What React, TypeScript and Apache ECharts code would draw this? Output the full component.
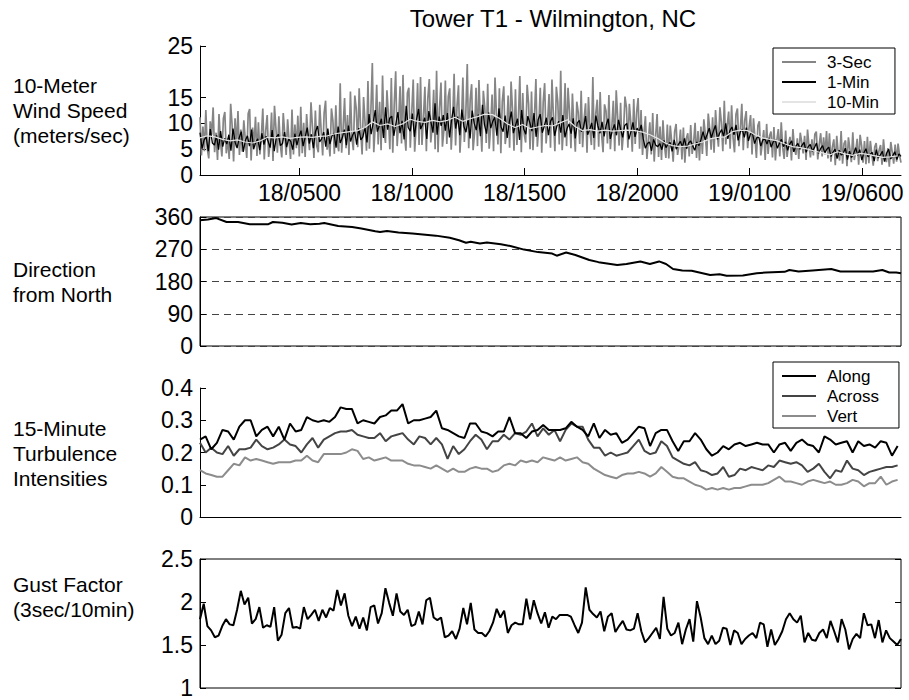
import React, { useEffect, useRef } from "react";
import * as echarts from "echarts";

// ---------- time axis (hours since 18/0000) ----------
const X_MIN = 0.58;
const X_MAX = 31.73;
const xTickHours = [5, 10, 15, 20, 25, 30];
const xTickLabels = ["18/0500", "18/1000", "18/1500", "18/2000", "19/0100", "19/0600"];

// ---------- panel 1: wind speed ----------
const speedTicks = [0, 5, 10, 15, 25];
const speed3sec = [
  11.2,3.8,9.4,4.6,12.6,5.1,3.2,10.4,7.8,13.1,4.4,8.2,2.9,11.8,6.5,3.6,10.9,12.2,4.2,7.1,3.1,13.8,9.6,2.6,11.0,5.4,12.4,3.9,8.8,4.5,10.6,6.9,3.3,11.9,12.8,2.8,9.2,5.7,11.3,3.7,10.2,4.0,7.4,12.9,3.0,8.6,11.6,3.5,6.2,12.1,2.7,13.4,9.0,4.3,11.4,5.9,3.4,12.0,8.1,3.9,10.8,6.6,3.1,12.7,4.0,9.8,5.2,11.5,3.6,
  13.2,4.2,10.1,3.5,11.8,7.6,4.8,14.1,9.3,3.3,12.5,5.6,4.4,13.6,8.4,3.8,12.0,14.4,4.9,7.2,3.6,12.9,10.5,4.1,13.5,6.3,4.6,
  17.8,4.3,9.1,14.9,5.2,11.6,3.9,16.2,7.4,4.8,15.4,12.8,5.4,16.8,8.9,4.0,15.1,10.2,4.7,
  18.2,5.1,12.4,21.7,4.4,9.8,17.5,5.9,14.2,4.8,19.3,8.6,6.2,16.4,11.5,5.0,18.8,4.3,13.7,20.1,5.6,10.4,17.2,6.1,19.4,8.1,4.7,15.9,16.9,5.3,12.1,18.5,4.5,9.6,17.8,5.8,
  19.0,5.8,11.2,17.1,4.6,14.8,18.6,6.3,9.4,16.5,5.0,20.2,4.4,12.9,17.9,5.5,8.7,18.3,6.0,15.2,16.8,4.9,10.6,19.6,5.7,13.4,17.4,4.3,9.9,18.9,6.4,11.8,21.5,5.2,14.6,17.6,4.8,8.2,16.9,
  5.6,18.4,10.3,4.5,16.3,13.1,6.2,17.7,5.1,9.2,15.6,4.6,18.9,11.7,5.9,16.8,4.2,14.3,17.2,6.0,8.5,15.4,5.3,18.1,12.6,4.7,16.6,5.8,10.9,19.2,4.4,15.9,7.9,6.3,17.5,13.8,5.0,16.2,4.8,11.3,18.6,5.5,9.7,16.9,4.3,14.1,17.8,6.1,10.2,15.7,
  5.3,18.5,11.4,4.6,17.1,14.2,5.9,20.2,4.8,9.8,17.8,5.6,16.9,12.3,
  5.2,15.8,9.6,4.5,14.2,12.1,6.0,16.3,5.4,10.8,13.9,4.3,15.1,8.7,5.8,19.0,4.9,11.9,14.6,5.5,16.1,7.8,4.4,13.7,12.4,6.1,15.5,5.0,9.3,14.4,4.6,16.4,11.2,5.7,14.0,4.8,8.4,15.2,13.1,5.3,13.8,10.1,4.5,14.7,6.0,12.2,14.9,5.1,
  12.6,3.9,8.1,11.4,3.1,6.7,10.2,4.0,12.0,2.6,7.5,11.8,3.5,9.4,2.9,10.6,5.8,3.3,9.8,
  3.2,9.6,6.4,2.6,8.4,9.9,3.9,5.7,8.8,3.0,9.2,2.4,7.1,8.1,3.6,9.7,4.1,6.2,10.1,3.3,8.5,2.8,9.4,
  4.1,10.8,7.9,3.7,11.9,9.1,4.9,11.2,4.3,12.6,8.4,5.5,13.1,10.2,4.6,14.4,5.9,9.6,12.3,5.1,13.5,7.3,4.4,11.8,12.9,5.6,8.8,13.8,4.8,10.6,12.4,5.2,9.3,11.6,
  4.0,11.0,7.2,3.3,9.6,10.4,3.8,6.1,8.7,2.9,9.9,4.1,7.6,8.4,3.4,9.3,2.8,6.8,8.9,3.6,10.2,5.3,3.1,
  8.6,3.5,6.1,7.4,2.8,8.9,5.2,3.9,7.1,3.1,8.2,6.4,4.2,7.6,2.9,8.8,5.6,3.4,6.9,3.8,7.9,8.4,3.0,5.9,8.1,3.6,7.3,4.0,8.5,3.2,
  8.1,2.6,5.4,6.9,1.9,7.6,4.3,2.8,8.5,2.2,6.1,6.7,1.7,7.3,5.0,2.5,8.3,2.9,4.6,7.0,2.0,7.8,5.7,2.4,6.6,2.1,7.4,
  2.3,6.6,4.1,1.8,5.4,6.2,2.7,4.8,5.8,2.0,6.9,3.6,2.5,5.2,1.6,6.4,4.4,2.2,5.9,2.6,6.1,3.8,2.4,
];
const speed1min = [
  8.2,5.1,6.8,7.4,4.6,8.9,6.2,5.8,7.7,4.9,8.5,5.5,7.1,6.0,7.8,4.7,9.0,6.4,5.2,7.2,8.4,4.5,6.7,7.6,5.6,8.8,5.0,6.3,7.0,4.8,8.1,5.9,7.5,6.6,5.3,8.7,4.6,7.3,7.9,5.7,6.1,8.3,5.4,7.0,6.5,4.9,8.0,5.8,7.4,
  8.6,5.6,7.3,9.2,6.1,7.9,5.2,8.4,9.5,6.4,7.0,8.3,5.5,9.0,6.0,7.6,8.1,5.3,9.4,6.2,7.2,8.8,5.8,9.6,6.5,7.7,8.5,5.9,9.1,6.8,7.4,9.3,6.3,
  11.8,7.9,10.1,12.6,8.4,9.6,10.9,7.2,13.1,8.8,11.0,11.4,7.6,9.9,12.2,8.1,10.5,6.9,13.4,9.2,8.5,11.9,7.4,10.7,12.8,8.9,9.8,11.1,7.0,12.4,10.3,8.2,13.9,7.8,11.3,9.5,11.6,8.6,12.0,7.3,10.6,13.2,9.0,11.3,7.7,12.7,9.4,8.3,10.8,7.1,12.5,10.0,8.7,11.7,7.5,13.6,9.7,8.0,12.1,9.1,10.4,11.2,7.6,12.9,9.3,8.4,11.5,7.2,10.2,12.3,8.1,9.6,10.9,6.8,12.6,8.9,7.9,11.4,10.1,8.5,12.0,7.4,10.7,11.8,8.2,9.5,11.1,7.7,10.4,
  11.2,7.6,9.4,10.4,8.2,11.6,7.3,9.0,9.9,8.0,11.0,7.1,10.1,10.6,8.4,9.2,11.4,7.8,8.8,10.1,7.2,11.5,9.5,8.1,10.3,7.5,9.7,10.9,7.0,8.6,9.8,7.7,10.7,8.9,7.3,9.6,10.0,6.9,8.4,10.2,7.4,9.1,8.3,9.7,
  7.0,5.2,6.1,6.4,4.7,6.9,5.8,5.5,6.1,4.9,6.7,5.3,6.0,6.3,4.6,6.8,5.0,5.9,6.5,5.4,7.1,5.1,6.2,6.6,5.6,4.8,6.4,5.7,6.9,
  8.4,6.8,7.9,9.1,7.2,8.5,9.6,6.9,8.1,8.8,7.5,10.0,7.0,8.6,9.3,7.8,9.7,6.7,8.3,8.9,7.3,9.2,6.6,8.0,
  8.0,6.1,7.2,7.4,5.6,6.8,7.0,6.0,7.2,5.4,6.4,6.8,5.2,6.1,6.9,5.5,6.4,4.8,6.0,6.6,4.5,5.6,6.1,5.0,5.8,6.3,4.4,5.5,5.9,4.6,5.3,6.2,4.2,5.1,5.7,4.3,5.0,
  5.4,3.6,4.4,5.0,3.2,4.8,3.9,4.2,5.2,3.0,4.6,3.4,4.1,5.3,3.8,4.9,2.9,4.3,5.1,3.5,4.0,4.4,2.7,4.9,3.3,3.9,4.6,2.6,4.2,5.0,3.1,3.7,4.5,3.0,4.1,3.6,
];
const speed10min = [
  7.2, 7.6, 7.4, 6.9, 6.6, 6.8, 6.4, 6.2, 6.6, 7.3,
  7.2, 7.4, 7.1, 7.3, 7.4, 7.3, 7.5, 7.6, 8.0, 8.2,
  8.4, 8.6, 9.2, 10.3, 9.6, 9.9, 9.4, 9.9, 10.8, 10.4,
  10.2, 10.6, 10.3, 10.6, 11.2, 10.4, 10.9, 11.3, 11.8, 11.7,
  10.9, 9.9, 9.2, 9.8, 9.0, 9.3, 9.6, 9.5, 10.1, 10.7,
  9.4, 8.6, 8.8, 8.5, 8.7, 8.5, 8.6, 8.7, 8.6, 8.3,
  7.8, 7.1, 6.2, 5.7, 5.5, 5.6, 6.0, 6.4, 7.0, 7.3,
  7.4, 8.4, 8.7, 8.6, 7.8, 7.2, 6.9, 6.6, 6.0, 5.5,
  5.3, 5.0, 4.6, 4.3, 3.9, 4.5, 4.1, 3.8, 4.2, 4.0,
  3.7, 3.4, 3.5, 3.7,
];
const SPEED10_STEP = 1 / 3;

// ---------- panel 2: direction ----------
const dirHours = [0.58,0.93,1.30,1.76,2.27,2.79,3.62,3.82,4.24,4.65,5.06,5.48,5.89,6.10,6.72,7.34,7.75,8.37,8.58,8.89,9.40,10.02,11.06,11.68,12.09,12.40,12.61,13.02,13.33,13.95,14.37,14.98,15.60,16.23,16.43,16.85,17.26,17.88,18.29,19.12,19.53,20.15,20.57,20.98,21.29,21.60,22.01,22.43,23.25,23.67,23.98,24.70,25.32,25.73,26.56,26.77,27.18,27.80,28.63,29.04,30.49,30.90,31.21,31.52,31.73];
const dirValues = [351,353,357,346,346,340,340,346,344,339,343,340,341,343,335,332,328,320,318,321,317,314,308,302,295,288,291,286,289,284,279,269,262,258,252,261,254,240,234,226,229,236,229,236,229,215,211,210,198,200,196,197,203,205,207,212,208,211,215,208,208,212,205,205,203];

// ---------- panel 3: turbulence (15-minute) ----------
const TURB_STEP = 0.25;
const turbAlong = [
  0.24,0.25,0.21,0.23,0.27,0.265,0.24,0.28,0.30,0.30,
  0.25,0.27,0.28,0.25,0.28,0.24,0.29,0.265,0.27,0.31,
  0.30,0.295,0.30,0.295,0.31,0.34,0.335,0.335,0.29,0.30,
  0.295,0.29,0.31,0.315,0.33,0.33,0.35,0.29,0.30,0.30,
  0.305,0.31,0.33,0.275,0.27,0.26,0.25,0.245,0.29,0.29,
  0.265,0.26,0.25,0.265,0.265,0.31,0.26,0.26,0.245,0.265,
  0.27,0.285,0.27,0.27,0.27,0.275,0.295,0.28,0.27,0.25,
  0.29,0.245,0.27,0.255,0.26,0.23,0.24,0.26,0.28,0.275,
  0.22,0.26,0.27,0.27,0.235,0.205,0.235,0.235,0.26,0.24,
  0.21,0.19,0.20,0.22,0.21,0.225,0.23,0.22,0.225,0.23,
  0.225,0.225,0.20,0.225,0.23,0.205,0.23,0.24,0.225,0.22,
  0.20,0.25,0.24,0.225,0.23,0.235,0.20,0.235,0.22,0.225,
  0.215,0.235,0.23,0.19,0.22,
];
const turbAcross = [
  0.23,0.20,0.215,0.20,0.195,0.22,0.19,0.21,0.21,0.215,
  0.24,0.22,0.21,0.215,0.225,0.24,0.225,0.22,0.20,0.225,
  0.245,0.215,0.24,0.25,0.26,0.265,0.265,0.27,0.255,0.25,
  0.245,0.245,0.26,0.235,0.25,0.255,0.26,0.24,0.225,0.25,
  0.245,0.225,0.245,0.225,0.18,0.22,0.195,0.21,0.235,0.255,
  0.24,0.21,0.235,0.235,0.255,0.24,0.26,0.255,0.265,0.29,
  0.25,0.275,0.255,0.27,0.235,0.27,0.29,0.28,0.28,0.24,
  0.215,0.215,0.19,0.20,0.19,0.195,0.20,0.22,0.24,0.205,
  0.195,0.20,0.235,0.22,0.185,0.175,0.165,0.16,0.17,0.145,
  0.14,0.13,0.135,0.155,0.125,0.13,0.15,0.145,0.155,0.15,
  0.145,0.16,0.155,0.175,0.17,0.165,0.17,0.16,0.14,0.15,
  0.165,0.14,0.12,0.145,0.14,0.175,0.15,0.145,0.13,0.14,
  0.145,0.15,0.155,0.155,0.16,
];
const turbVert = [
  0.145,0.135,0.13,0.125,0.125,0.145,0.165,0.16,0.185,0.175,
  0.18,0.175,0.17,0.165,0.17,0.17,0.17,0.175,0.175,0.19,
  0.175,0.17,0.195,0.195,0.195,0.195,0.20,0.21,0.205,0.18,
  0.185,0.175,0.18,0.185,0.175,0.175,0.175,0.165,0.16,0.16,
  0.155,0.15,0.16,0.15,0.14,0.15,0.14,0.14,0.15,0.155,
  0.15,0.15,0.14,0.145,0.16,0.165,0.16,0.175,0.17,0.175,
  0.17,0.185,0.18,0.175,0.185,0.175,0.18,0.185,0.17,0.165,
  0.15,0.14,0.13,0.125,0.12,0.13,0.135,0.135,0.14,0.135,
  0.125,0.135,0.155,0.14,0.125,0.12,0.12,0.11,0.10,0.095,
  0.085,0.09,0.085,0.09,0.085,0.09,0.09,0.095,0.10,0.10,
  0.10,0.105,0.115,0.125,0.11,0.11,0.105,0.10,0.11,0.115,
  0.11,0.105,0.11,0.10,0.10,0.105,0.115,0.11,0.095,0.105,
  0.105,0.125,0.10,0.11,0.115,
];

// ---------- panel 4: gust factor (10-minute) ----------
const GUST_STEP = 0.1648;
const gustFactor = [
  1.80,1.98,1.72,1.67,1.59,1.61,1.72,1.80,1.74,1.73,
  1.91,2.13,1.97,2.05,1.75,1.80,1.94,1.70,1.73,1.71,
  1.94,1.55,1.62,1.87,1.93,1.70,1.71,1.69,1.94,1.80,
  1.85,1.91,1.78,1.91,1.82,1.93,1.90,2.14,1.96,2.10,
  1.84,1.72,1.83,1.69,1.82,1.67,1.94,1.96,1.75,1.87,
  2.16,1.99,1.84,2.10,1.89,1.85,1.91,1.72,1.74,1.89,
  1.74,2.02,2.05,1.82,1.79,1.82,1.59,1.61,1.66,1.57,
  1.69,1.93,1.74,1.99,1.68,1.64,1.64,1.60,1.66,1.76,
  1.92,1.82,1.90,1.64,1.73,1.76,1.74,1.74,2.04,1.80,
  2.02,1.87,1.75,1.88,1.70,1.83,1.80,1.85,1.85,1.85,
  1.83,1.73,1.64,1.76,2.17,1.91,1.86,1.82,1.89,1.66,
  1.83,1.87,1.65,1.72,1.78,1.68,1.67,1.69,1.87,1.66,
  1.53,1.58,1.64,1.70,1.57,2.06,1.69,1.61,1.64,1.76,
  1.51,1.68,1.80,1.54,2.01,1.82,1.58,1.51,1.61,1.51,
  1.55,1.70,1.69,1.50,1.67,1.64,1.51,1.57,1.61,1.64,
  1.58,1.76,1.74,1.48,1.68,1.50,1.57,1.66,1.80,1.87,
  1.80,1.76,1.84,1.53,1.64,1.56,1.55,1.64,1.68,1.58,
  1.78,1.66,1.53,1.80,1.68,1.45,1.57,1.63,1.58,1.87,
  1.73,1.74,1.58,1.79,1.53,1.67,1.58,1.54,1.50,1.57,
];

const FONT = '"Liberation Sans", Arial, Helvetica, sans-serif';

function spread(values: number[]) {
  const step = (X_MAX - X_MIN) / (values.length - 1);
  return values.map((v, i) => [X_MIN + i * step, v]);
}
function stepped(values: number[], step: number) {
  return values.map((v, i) => [X_MIN + i * step, v]);
}

export default function App() {
  const ref = useRef<HTMLDivElement>(null);
  useEffect(() => {
    if (!ref.current) return;
    const chart = echarts.init(ref.current, null, { renderer: "svg" });
    const L = 200, W = 701, H = 129;
    const tops = [46, 217, 388, 559];
    const black = "#000";
    const tickLabel = { color: black, fontSize: 23, fontFamily: FONT };

    const xAxes = tops.map((_, i) => ({
      type: "value",
      gridIndex: i,
      min: X_MIN,
      max: X_MAX,
      axisLine: { show: i === 0 || i === 2, onZero: false, lineStyle: { color: black, width: 1 } },
      axisTick: { show: i === 0, inside: true, length: 7, customValues: xTickHours, lineStyle: { color: black } },
      axisLabel: {
        show: i === 0,
        customValues: xTickHours,
        margin: 6,
        ...tickLabel,
        formatter: (v: number) => {
          const k = xTickHours.indexOf(Math.round(v));
          return k >= 0 ? xTickLabels[k] : "";
        },
      },
      splitLine: { show: false },
    }));

    const yBase = (grid: number) => ({
      type: "value",
      gridIndex: grid,
      axisLine: { show: true, onZero: false, lineStyle: { color: black, width: 1 } },
      axisTick: { show: true, inside: true, length: 6, lineStyle: { color: black } },
      axisLabel: { margin: 7, ...tickLabel },
      splitLine: { show: false },
    });

    const yAxes: any[] = [
      {
        ...yBase(0), min: 0, max: 25,
        axisTick: { show: true, inside: true, length: 6, customValues: speedTicks, lineStyle: { color: black } },
        axisLabel: { margin: 7, ...tickLabel, customValues: speedTicks },
      },
      {
        ...yBase(1), min: 0, max: 360, interval: 90,
        splitLine: { show: true, lineStyle: { color: "#444", type: [7, 5], width: 1 } },
      },
      { ...yBase(2), min: 0, max: 0.4, interval: 0.1 },
      { ...yBase(3), min: 1, max: 2.5, interval: 0.5 },
      {
        type: "value", gridIndex: 3, position: "right", min: 1, max: 2.5, interval: 0.5,
        axisLine: { show: false },
        axisTick: { show: true, inside: true, length: 6, lineStyle: { color: black } },
        axisLabel: { show: false },
        splitLine: { show: false },
      },
    ];

    const line = (name: string, xi: number, yi: number, data: number[][], color: string, width: number, z: number) => ({
      name, type: "line", xAxisIndex: xi, yAxisIndex: yi, data,
      color, symbol: "none", showSymbol: false, silent: true, z,
      lineStyle: { color, width },
    });

    const legendCommon = {
      orient: "vertical",
      left: 773,
      icon: "rect",
      itemWidth: 34,
      itemHeight: 2,
      itemGap: 0,
      selectedMode: false,
      backgroundColor: "#fff",
      borderColor: black,
      borderWidth: 1,
      borderRadius: 0,
      padding: [4, 16, 2, 9],
      textStyle: { color: black, fontSize: 17, fontFamily: FONT, lineHeight: 20, padding: [0, 0, 0, 6] },
    };

    const option: any = {
      animation: false,
      backgroundColor: "#fff",
      grid: tops.map((t, i) => ({
        left: L, top: t, width: W, height: H,
        show: i === 1 || i === 3,
        borderColor: black, borderWidth: 1, backgroundColor: "transparent",
      })),
      xAxis: xAxes,
      yAxis: yAxes,
      legend: [
        { ...legendCommon, top: 48, data: ["3-Sec", "1-Min", "10-Min"] },
        { ...legendCommon, top: 362, padding: [4, 20, 2, 9], data: ["Along", "Across", "Vert"] },
      ],
      series: [
        line("3-Sec", 0, 0, spread(speed3sec), "#858585", 1.7, 1),
        line("1-Min", 0, 0, spread(speed1min), "#000000", 1.3, 2),
        line("10-Min", 0, 0, stepped(speed10min, SPEED10_STEP), "#e4e4e4", 1.2, 3),
        line("Direction", 1, 1, dirHours.map((h, i) => [h, dirValues[i]]), "#000000", 2, 2),
        line("Vert", 2, 2, stepped(turbVert, TURB_STEP), "#8c8c8c", 2, 2),
        line("Across", 2, 2, stepped(turbAcross, TURB_STEP), "#444444", 2, 3),
        line("Along", 2, 2, stepped(turbAlong, TURB_STEP), "#000000", 2, 4),
        line("Gust Factor", 3, 3, stepped(gustFactor, GUST_STEP), "#000000", 2, 2),
      ],
      graphic: [
        { type: "text", x: 553, y: 18, style: { text: "Tower T1 - Wilmington, NC", fontSize: 24, fontFamily: FONT, fill: black, align: "center", verticalAlign: "middle" } },
        { type: "text", x: 13, y: 110, style: { text: "10-Meter\nWind Speed\n(meters/sec)", fontSize: 21, lineHeight: 25, fontFamily: FONT, fill: black, align: "left", verticalAlign: "middle" } },
        { type: "text", x: 13, y: 282, style: { text: "Direction\nfrom North", fontSize: 21, lineHeight: 25, fontFamily: FONT, fill: black, align: "left", verticalAlign: "middle" } },
        { type: "text", x: 13, y: 453, style: { text: "15-Minute\nTurbulence\nIntensities", fontSize: 21, lineHeight: 25, fontFamily: FONT, fill: black, align: "left", verticalAlign: "middle" } },
        { type: "text", x: 13, y: 597, style: { text: "Gust Factor\n(3sec/10min)", fontSize: 21, lineHeight: 25, fontFamily: FONT, fill: black, align: "left", verticalAlign: "middle" } },
      ],
    };
    chart.setOption(option);
    return () => chart.dispose();
  }, []);
  return <div ref={ref} style={{ position: "absolute", left: 0, top: 0, width: 909, height: 700 }} />;
}
